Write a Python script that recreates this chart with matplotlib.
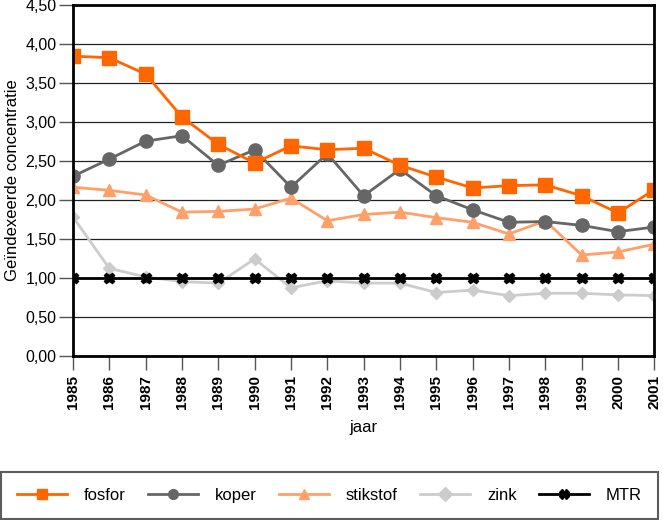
import matplotlib
matplotlib.use("Agg")
import matplotlib.pyplot as plt
from matplotlib.ticker import FuncFormatter

plt.rcParams['font.family'] = ['Liberation Sans', 'DejaVu Sans']

years = list(range(1985, 2002))
fosfor = [3.84, 3.82, 3.61, 3.06, 2.71, 2.47, 2.69, 2.64, 2.66, 2.44, 2.29,
          2.15, 2.18, 2.19, 2.05, 1.83, 2.13]
koper = [2.30, 2.52, 2.75, 2.82, 2.44, 2.64, 2.16, 2.59, 2.05, 2.39, 2.05,
         1.87, 1.71, 1.72, 1.67, 1.59, 1.65]
stikstof = [2.16, 2.12, 2.06, 1.84, 1.85, 1.88, 2.02, 1.73, 1.81, 1.84, 1.77,
            1.71, 1.56, 1.73, 1.29, 1.33, 1.43]
zink = [1.78, 1.12, 1.01, 0.95, 0.93, 1.24, 0.87, 0.96, 0.93, 0.93, 0.81,
        0.84, 0.77, 0.80, 0.80, 0.78, 0.77]
mtr = [1.00] * 17

fig = plt.figure(figsize=(6.63, 5.2), dpi=100)
ax = fig.add_axes([0.110, 0.316, 0.877, 0.675])

# grid first so lines sit on top
yticks = [i * 0.5 for i in range(10)]
for v in yticks:
    ax.axhline(v, color='#222222', lw=0.9, zorder=1)

ax.plot(years, zink, color='#cccccc', lw=2, marker='D', ms=6.5,
        label='zink', zorder=3)
ax.plot(years, stikstof, color='#ffa06a', lw=2, marker='^', ms=9,
        label='stikstof', zorder=4)
ax.plot(years, koper, color='#666666', lw=2, marker='o', ms=9.5,
        label='koper', zorder=5)
ax.plot(years, fosfor, color='#ff6600', lw=2, marker='s', ms=9.5,
        label='fosfor', zorder=6)
ax.plot(years, mtr, color='black', lw=2, marker='X', ms=7.5,
        label='MTR', zorder=7)

ax.set_xlim(1985, 2001)
ax.set_ylim(0, 4.5)
ax.set_yticks(yticks)
ax.yaxis.set_major_formatter(FuncFormatter(lambda v, p: f"{v:.2f}".replace('.', ',')))
ax.set_xticks(years)
ax.set_xticklabels([str(y) for y in years], rotation=90, fontweight='bold',
                   fontsize=11)
ax.tick_params(axis='y', labelsize=11.5, length=10, width=1, color='#555555', pad=2)
ax.tick_params(axis='x', length=10, width=1, color='#555555', pad=4)

for s in ax.spines.values():
    s.set_linewidth(2)
    s.set_color('black')
    s.set_zorder(8)

ax.set_ylabel('Geïndexeerde concentratie', fontsize=12, labelpad=4)
ax.set_xlabel('jaar', fontsize=12, labelpad=8)

h, l = ax.get_legend_handles_labels()
order = ['fosfor', 'koper', 'stikstof', 'zink', 'MTR']
hh = [h[l.index(o)] for o in order]
leg = fig.legend(hh, order, loc='lower left', ncol=5, mode='expand',
                 bbox_to_anchor=(0.002, 0.002, 0.99, 0.09), fontsize=12,
                 handlelength=3.0, frameon=True, fancybox=False,
                 borderaxespad=0, borderpad=0.95, columnspacing=1.0,
                 handletextpad=1.0)
leg.get_frame().set_edgecolor('#333333')
leg.get_frame().set_linewidth(1.5)
for line in leg.get_lines():
    line.set_markersize(7)

fig.savefig('out.png', dpi=100)
